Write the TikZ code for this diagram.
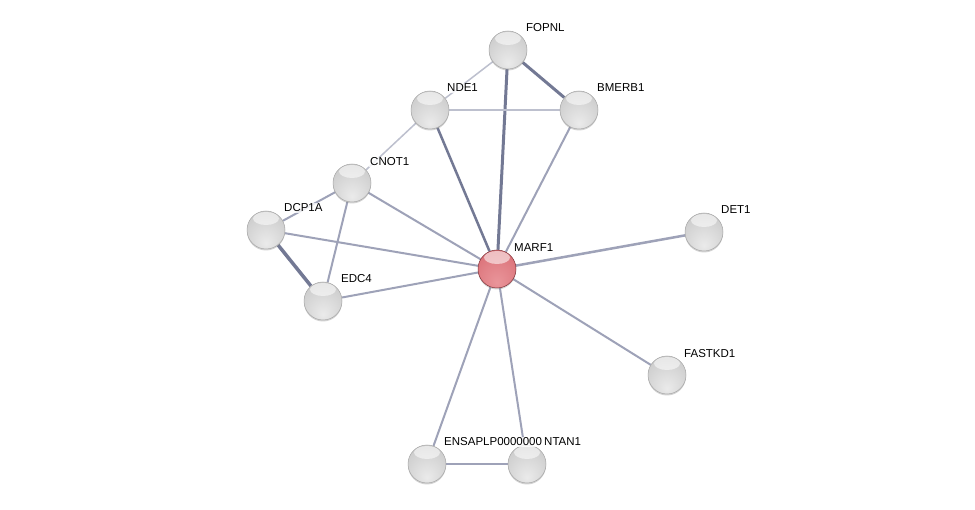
\documentclass[tikz,border=0pt]{standalone}
\usepackage{fontspec}
\setmainfont{Liberation Sans}
\usepackage{xcolor}
\usepackage{tikz}
\usetikzlibrary{backgrounds,shadows}
\definecolor{edgemid}{HTML}{9EA2B8}
\definecolor{edgedark}{HTML}{737994}
\definecolor{edgelight}{HTML}{BDC0CE}
\definecolor{redlo}{HTML}{E9959A}
\definecolor{redmid}{HTML}{D6656D}
\definecolor{redhi}{HTML}{B5454D}
\pgfdeclareradialshading{greyball}{\pgfpoint{0bp}{-18bp}}{%
  color(0bp)=(white!92!black); color(20bp)=(white!85!black); color(45bp)=(white!76!black);
  color(62bp)=(white!66!black); color(72bp)=(white!58!black)}
\pgfdeclareradialshading{redball}{\pgfpoint{0bp}{-18bp}}{%
  color(0bp)=(redlo); color(20bp)=(redlo!60!redmid); color(45bp)=(redmid);
  color(62bp)=(redmid!60!redhi); color(72bp)=(redhi)}

\begin{document}
\begin{tikzpicture}[
        x=1pt,y=-1pt,
        prot/.style={circle,minimum size=38pt,inner sep=0pt,shading=greyball,
                     draw=black!35,line width=0.5pt,
                     drop shadow={shadow xshift=0pt,shadow yshift=-1.5pt,opacity=.35},
                     path picture={\fill[white,opacity=.55]
                       ([yshift=-7.5pt]path picture bounding box.north)
                       ellipse [x radius=13pt,y radius=6.5pt];}},
        query/.style={prot,shading=redball,draw=redhi!70!black},
        lbl/.style={anchor=west,fill=white,fill opacity=0.8,text opacity=1,
                    inner sep=1pt,font=\fontsize{11.5}{13}\selectfont},
        link/.style={edgemid,line width=2pt},
        weak/.style={edgelight,line width=1.5pt},
        strong/.style={edgedark,line width=3pt}
      ]
        \useasboundingbox (0,0) rectangle (975,510);

        \node[prot] (fopnl) at (508,50) {};
        \node[prot] (nde1) at (430,110) {};
        \node[prot] (bmerb1) at (579,110) {};
        \node[prot] (cnot1) at (352,183) {};
        \node[prot] (dcp1a) at (266,230) {};
        \node[prot] (det1) at (704,232) {};
        \node[query] (marf1) at (497,269) {};
        \node[prot] (edc4) at (323,301) {};
        \node[prot] (fastkd1) at (667,375) {};
        \node[prot] (ensaplp) at (427,464) {};
        \node[prot] (ntan1) at (527,464) {};

        \begin{scope}[on background layer]
        \fill[white] (0,0) rectangle (975,510);
        \draw[weak] (fopnl)--(nde1);
        \draw[strong] (fopnl)--(bmerb1);
        \draw[strong] (fopnl)--(marf1);
        \draw[weak] (nde1)--(bmerb1);
        \draw[link,edgedark,line width=2.5pt] (nde1)--(marf1);
        \draw[link] (bmerb1)--(marf1);
        \draw[weak] (nde1)--(cnot1);
        \draw[link] (cnot1)--(marf1);
        \draw[link] (cnot1)--(edc4);
        \draw[link] (cnot1)--(dcp1a);
        \draw[link] (dcp1a)--(marf1);
        \draw[strong,line width=3.5pt] (dcp1a)--(edc4);
        \draw[link] (edc4)--(marf1);
        \draw[link,line width=2.5pt] (det1)--(marf1);
        \draw[link] (fastkd1)--(marf1);
        \draw[link] (ensaplp)--(marf1);
        \draw[link] (ntan1)--(marf1);
        \draw[link] (ensaplp)--(ntan1);
        \end{scope}

        \node[lbl] (fopnl-l) at (525,28) {FOPNL};
        \node[lbl] (nde1-l) at (446,88) {NDE1};
        \node[lbl] (bmerb1-l) at (596,88) {BMERB1};
        \node[lbl] (cnot1-l) at (369,162) {CNOT1};
        \node[lbl] (dcp1a-l) at (283,208) {DCP1A};
        \node[lbl] (det1-l) at (720,210) {DET1};
        \node[lbl] (marf1-l) at (513,248) {MARF1};
        \node[lbl] (edc4-l) at (340,279) {EDC4};
        \node[lbl] (fastkd1-l) at (683,354) {FASTKD1};
        \node[lbl] (ensaplp-l) at (443,442) {ENSAPLP0000000};
        \node[lbl] (ntan1-l) at (543,442) {NTAN1};
      \end{tikzpicture}
\end{document}
